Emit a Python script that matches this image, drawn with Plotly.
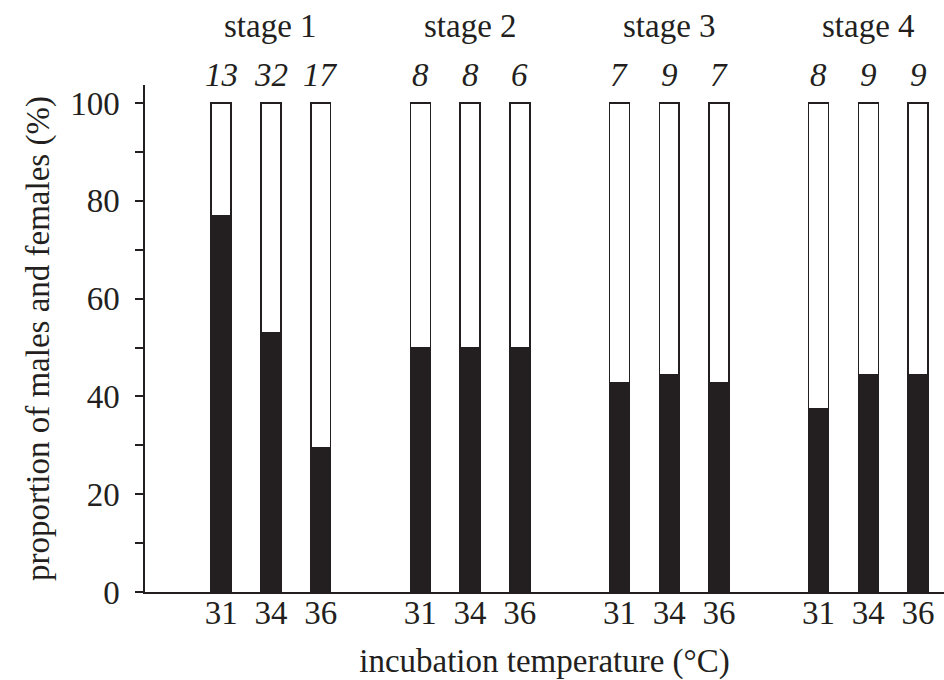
import plotly.graph_objects as go

stages = ["stage 1", "stage 2", "stage 3", "stage 4"]
temps = ["31", "34", "36"]
sample_sizes = [13, 32, 17, 8, 8, 6, 7, 9, 7, 8, 9, 9]
black_pct = [76.9, 53.1, 29.6, 50.0, 50.0, 50.0, 42.9, 44.4, 42.9, 37.5, 44.4, 44.4]
white_pct = [100 - v for v in black_pct]

# positions: three bars per stage, one empty slot between stages
xpos = []
for g in range(len(stages)):
    for t in range(len(temps)):
        xpos.append(g * 4 + t + 1)
ticklabels = temps * len(stages)

FONT = "Liberation Serif, Times New Roman, serif"
INK = "#231f20"
FS = 33

fig = go.Figure()
fig.add_bar(x=xpos, y=black_pct, width=0.4, name="black",
            marker=dict(color=INK, line=dict(color=INK, width=1.5)))
fig.add_bar(x=xpos, y=white_pct, width=0.4, name="white",
            marker=dict(color="white", line=dict(color=INK, width=1.5)))

annotations = []
for i, n in enumerate(sample_sizes):
    annotations.append(dict(x=xpos[i], y=1.02, xref="x", yref="paper",
                            text=f"<i>{n}</i>", showarrow=False,
                            font=dict(family=FONT, size=FS, color=INK),
                            xanchor="center", yanchor="middle"))
for g, s in enumerate(stages):
    annotations.append(dict(x=xpos[g * 3 + 1], y=1.116, xref="x", yref="paper",
                            text=s, showarrow=False,
                            font=dict(family=FONT, size=FS, color=INK),
                            xanchor="center", yanchor="middle"))

fig.update_layout(
    barmode="stack",
    width=944, height=680,
    margin=dict(l=145, r=0, t=85, b=88),
    plot_bgcolor="white", paper_bgcolor="white",
    showlegend=False,
    font=dict(family=FONT, size=FS, color=INK),
    annotations=annotations,
    xaxis=dict(
        range=[-0.53, 15.52],
        tickvals=xpos, ticktext=ticklabels,
        showline=True, linecolor=INK, linewidth=1.5,
        ticks="", showgrid=False, zeroline=False,
        automargin=False,
        ticklabelstandoff=-9,
        tickfont=dict(family=FONT, size=FS, color=INK),
        title=dict(text="incubation temperature (°C)", standoff=21,
                   font=dict(family=FONT, size=FS, color=INK)),
    ),
    yaxis=dict(
        range=[0, 103.7],
        tickvals=[0, 20, 40, 60, 80, 100],
        showline=True, linecolor=INK, linewidth=1.5,
        ticks="outside", ticklen=8, tickwidth=1.5, tickcolor=INK,
        ticklabelstandoff=9,
        minor=dict(tickvals=[10, 30, 50, 70, 90], ticks="outside",
                   ticklen=8, tickwidth=1.5, tickcolor=INK),
        showgrid=False, zeroline=False,
        automargin=False,
        tickfont=dict(family=FONT, size=FS, color=INK),
        title=dict(text="proportion of males and females (%)", standoff=11,
                   font=dict(family=FONT, size=FS, color=INK)),
    ),
)

fig.write_html("out.html", config={"displayModeBar": False},
               post_script="document.body.style.margin='0px';")
